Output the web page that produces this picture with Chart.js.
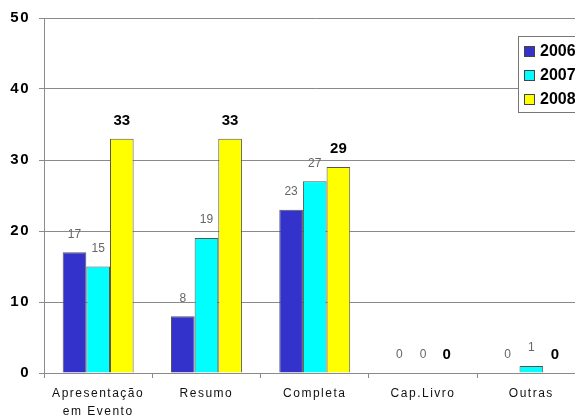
<!DOCTYPE html>
<html>
<head>
    <title>Publicações</title>
    <script src="https://cdn.jsdelivr.net/npm/chart.js@4.4.0/dist/chart.umd.min.js"></script>
    <style>
        html, body { margin: 0; padding: 0; width: 575px; height: 420px; overflow: hidden; background: #fff; }
        .chart-box { width: 600px; height: 420px; }
    </style>
</head>
<body>
    <div class="chart-box"><canvas id="chart"></canvas></div>

    <script>
        // data
        const categories = [['Apresentação', 'em Evento'], 'Resumo', 'Completa', 'Cap.Livro', 'Outras'];
        const years = ['2006', '2007', '2008'];
        const values2006 = [17, 8, 23, 0, 0];
        const values2007 = [15, 19, 27, 0, 1];
        const values2008 = [33, 33, 29, 0, 0];
        const yTicks = [0, 10, 20, 30, 40, 50];

        const colors = ['#3333CC', '#00FFFF', '#FFFF00'];
        const gridGray = '#8a8a8a';

        // bar value labels
        const valueLabels = {
            id: 'valueLabels',
            afterDatasetsDraw(chart) {
                const ctx = chart.ctx;
                ctx.save();
                ctx.textAlign = 'center';
                ctx.textBaseline = 'middle';
                chart.data.datasets.forEach((ds, i) => {
                    const meta = chart.getDatasetMeta(i);
                    if (i === 2) {
                        ctx.font = 'bold 15px Arial, "Liberation Sans"';
                        ctx.fillStyle = '#000';
                    } else {
                        ctx.font = '12px Arial, "Liberation Sans"';
                        ctx.fillStyle = '#666';
                    }
                    meta.data.forEach((bar, j) => {
                        ctx.fillText(String(ds.data[j]), bar.x, bar.y - 18);
                    });
                });
                ctx.restore();
            }
        };

        // boxed legend like the original, sitting over the gridlines
        const boxLegend = {
            id: 'boxLegend',
            afterDraw(chart) {
                const ctx = chart.ctx;
                ctx.save();
                ctx.fillStyle = '#fff';
                ctx.fillRect(518, 36, 90, 76);
                ctx.strokeStyle = '#777';
                ctx.lineWidth = 1;
                ctx.strokeRect(518.5, 36.5, 90, 76);
                ctx.font = 'bold 16px Arial, "Liberation Sans"';
                ctx.textBaseline = 'middle';
                years.forEach((y, i) => {
                    const cy = 51 + i * 24;
                    ctx.fillStyle = colors[i];
                    ctx.fillRect(524, cy - 5, 10, 10);
                    ctx.strokeStyle = '#444';
                    ctx.strokeRect(524.5, cy - 4.5, 10, 10);
                    ctx.fillStyle = '#000';
                    ctx.fillText(y, 540, cy + 1);
                });
                ctx.restore();
            }
        };

        // widen the category labels a little, the way the original renders them
        const spacing = {
            id: 'spacing',
            beforeDraw(chart) { chart.ctx.letterSpacing = '1.5px'; },
            beforeDatasetsDraw(chart) { chart.ctx.letterSpacing = '0px'; }
        };

        new Chart(document.getElementById('chart'), {
            type: 'bar',
            data: {
                labels: categories,
                datasets: [
                    { label: years[0], data: values2006, backgroundColor: colors[0] },
                    { label: years[1], data: values2007, backgroundColor: colors[1] },
                    { label: years[2], data: values2008, backgroundColor: colors[2] }
                ].map(d => Object.assign(d, { borderColor: '#555', borderWidth: 1, categoryPercentage: 0.655, barPercentage: 1 }))
            },
            options: {
                responsive: true,
                maintainAspectRatio: false,
                animation: false,
                layout: { padding: { top: 17, right: 14.5, left: 0, bottom: 0 } },
                plugins: { legend: { display: false }, tooltip: { enabled: false } },
                scales: {
                    x: {
                        grid: { drawOnChartArea: false, drawTicks: true, tickLength: 5, color: gridGray },
                        border: { color: gridGray },
                        ticks: {
                            color: '#111',
                            padding: 6,
                            maxRotation: 0,
                            font: { family: 'Arial, "Liberation Sans"', size: 12, lineHeight: 1.55 }
                        },
                        afterFit(s) { s.height = 47; }
                    },
                    y: {
                        min: 0,
                        max: 50,
                        afterBuildTicks(s) { s.ticks = yTicks.map(v => ({ value: v })); },
                        grid: { color: gridGray, tickLength: 5 },
                        border: { color: gridGray },
                        ticks: {
                            color: '#000',
                            padding: 9,
                            font: { family: 'Arial, "Liberation Sans"', size: 15, weight: 'bold' }
                        },
                        afterFit(s) { s.width = 44; }
                    }
                }
            },
            plugins: [spacing, valueLabels, boxLegend]
        });
    </script>
</body>
</html>
